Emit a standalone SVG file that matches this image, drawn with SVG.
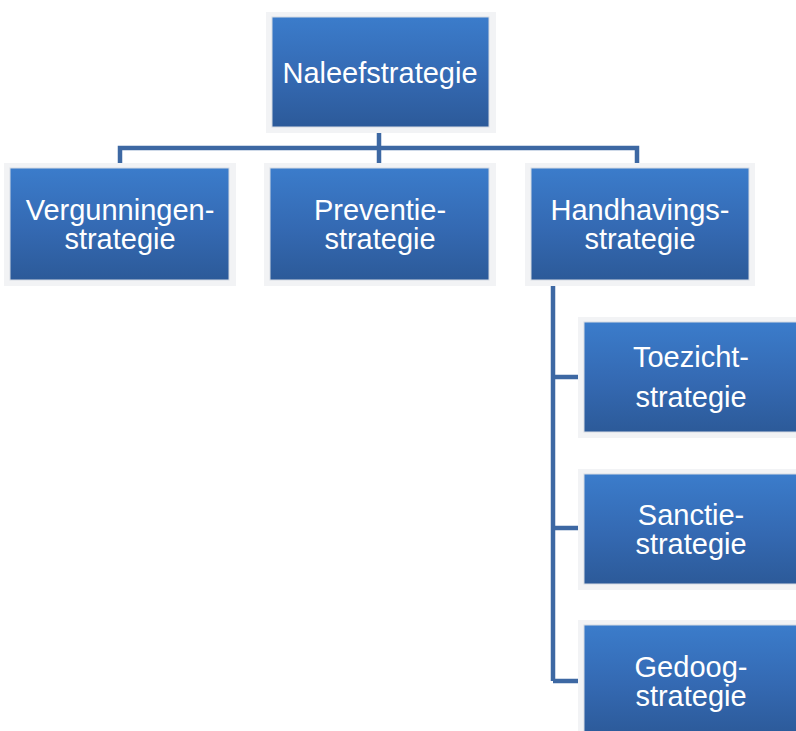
<svg xmlns="http://www.w3.org/2000/svg" width="796" height="731" viewBox="0 0 796 731">
<style>
.box{fill:url(#g);stroke:#d6dbe3;stroke-width:1}
.sh{fill:#f2f3f5}
.t{font-family:"Liberation Sans",Arial,sans-serif;font-size:29px;fill:#ffffff;text-anchor:middle}
.c{fill:none;stroke:#3d68a3;stroke-width:4.5}
</style>
<defs>
<linearGradient id="g" x1="0" y1="0" x2="0" y2="1">
<stop offset="0" stop-color="#3b7ccb"/>
<stop offset="0.55" stop-color="#3469b2"/>
<stop offset="1" stop-color="#2c5a99"/>
</linearGradient>
</defs>
<rect width="796" height="731" fill="#ffffff"/>
<g id="connectors">
<path class="c" d="M379 127 V168 M120 168 V148 H637 V168"/>
<path class="c" d="M553 280 V681 M553 377 H584 M553 528 H584 M553 681 H584"/>
</g>
<g id="n1"><rect class="sh" x="266" y="12" width="230" height="121"/><rect class="box" x="272" y="17" width="217" height="110"/><text class="t" x="380" y="83">Naleefstrategie</text></g>
<g id="n2"><rect class="sh" x="4" y="163" width="232" height="123"/><rect class="box" x="10" y="168" width="219" height="112"/><text class="t" x="120" y="220">Vergunningen-</text><text class="t" x="120" y="249">strategie</text></g>
<g id="n3"><rect class="sh" x="264" y="163" width="232" height="123"/><rect class="box" x="270" y="168" width="219" height="112"/><text class="t" x="380" y="220">Preventie-</text><text class="t" x="380" y="249">strategie</text></g>
<g id="n4"><rect class="sh" x="525" y="163" width="230" height="123"/><rect class="box" x="531" y="168" width="218" height="112"/><text class="t" x="640" y="220">Handhavings-</text><text class="t" x="640" y="249">strategie</text></g>
<g id="n5"><rect class="sh" x="578" y="317" width="218" height="121"/><rect class="box" x="584" y="322" width="215" height="110"/><text class="t" x="691" y="367">Toezicht-</text><text class="t" x="691" y="407">strategie</text></g>
<g id="n6"><rect class="sh" x="578" y="469" width="218" height="121"/><rect class="box" x="584" y="474" width="215" height="110"/><text class="t" x="691" y="525">Sanctie-</text><text class="t" x="691" y="554">strategie</text></g>
<g id="n7"><rect class="sh" x="578" y="620" width="218" height="121"/><rect class="box" x="584" y="625" width="215" height="110"/><text class="t" x="691" y="677">Gedoog-</text><text class="t" x="691" y="706">strategie</text></g>
</svg>
